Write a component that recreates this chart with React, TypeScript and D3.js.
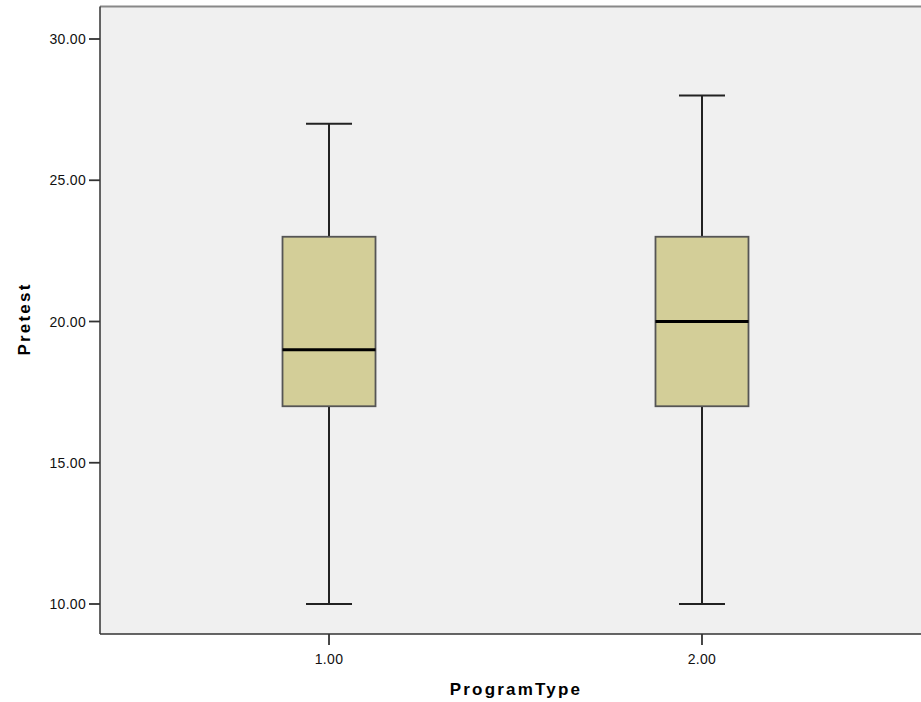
import React from 'react';
import * as d3 from 'd3';

const categories = ['1.00', '2.00'];
const mins = [10, 10];
const q1s = [17, 17];
const medians = [19, 20];
const q3s = [23, 23];
const maxs = [27, 28];
const yTicks = [10, 15, 20, 25, 30];

const width = 921;
const height = 702;
const plot = { left: 100, top: 6.5, right: 931, bottom: 634 };

export default function App() {
  const x = d3.scalePoint<string>()
    .domain(categories)
    .range([plot.left, plot.right])
    .padding(0.614);

  const y = d3.scaleLinear()
    .domain([10, 30])
    .range([604, 39]);

  const boxW = 93;
  const capW = 46;
  const font = '"Liberation Sans", Arial, sans-serif';

  return (
    <div style={{ position: 'absolute', left: 0, top: 0 }}>
      <svg width={width} height={height} style={{ display: 'block', background: '#fff' }}>
        <rect x={plot.left} y={plot.top} width={plot.right - plot.left} height={plot.bottom - plot.top}
          fill="#f0f0f0" />
        <line x1={plot.left} x2={plot.right} y1={plot.top} y2={plot.top} stroke="#888" strokeWidth={2} />
        <line x1={plot.left} x2={plot.left} y1={plot.top} y2={plot.bottom} stroke="#333" strokeWidth={1.5} />
        <line x1={plot.left} x2={plot.right} y1={plot.bottom} y2={plot.bottom} stroke="#333" strokeWidth={1.5} />

        {yTicks.map(t => (
          <g key={t}>
            <line x1={89} x2={plot.left} y1={y(t)} y2={y(t)} stroke="#333" strokeWidth={1.8} />
            <text x={86} y={y(t)} dy="0.36em" textAnchor="end" fontFamily={font} fontSize={14}
              letterSpacing={0.3} fill="#111">{t.toFixed(2)}</text>
          </g>
        ))}

        {categories.map(c => (
          <g key={c}>
            <line x1={x(c)} x2={x(c)} y1={plot.bottom} y2={645} stroke="#333" strokeWidth={1.8} />
            <text x={x(c)} y={664} textAnchor="middle" fontFamily={font} fontSize={14}
              letterSpacing={0.3} fill="#111">{c}</text>
          </g>
        ))}

        {categories.map((c, i) => {
          const cx = x(c) as number;
          return (
            <g key={'box' + c}>
              <line x1={cx} x2={cx} y1={y(maxs[i])} y2={y(q3s[i])} stroke="#222" strokeWidth={2} />
              <line x1={cx} x2={cx} y1={y(q1s[i])} y2={y(mins[i])} stroke="#222" strokeWidth={2} />
              <line x1={cx - capW / 2} x2={cx + capW / 2} y1={y(maxs[i])} y2={y(maxs[i])} stroke="#222" strokeWidth={2} />
              <line x1={cx - capW / 2} x2={cx + capW / 2} y1={y(mins[i])} y2={y(mins[i])} stroke="#222" strokeWidth={2} />
              <rect x={cx - boxW / 2} y={y(q3s[i])} width={boxW} height={y(q1s[i]) - y(q3s[i])}
                fill="#d3ce98" stroke="#555" strokeWidth={1.8} />
              <line x1={cx - boxW / 2} x2={cx + boxW / 2} y1={y(medians[i])} y2={y(medians[i])} stroke="#000" strokeWidth={2.8} />
            </g>
          );
        })}

        <text x={516} y={695} textAnchor="middle" fontFamily={font} fontSize={17} fontWeight="bold"
          letterSpacing={2.2} fill="#000">ProgramType</text>
        <text transform="translate(30,319) rotate(-90)" textAnchor="middle" fontFamily={font} fontSize={17}
          fontWeight="bold" letterSpacing={2.2} fill="#000">Pretest</text>
      </svg>
    </div>
  );
}
